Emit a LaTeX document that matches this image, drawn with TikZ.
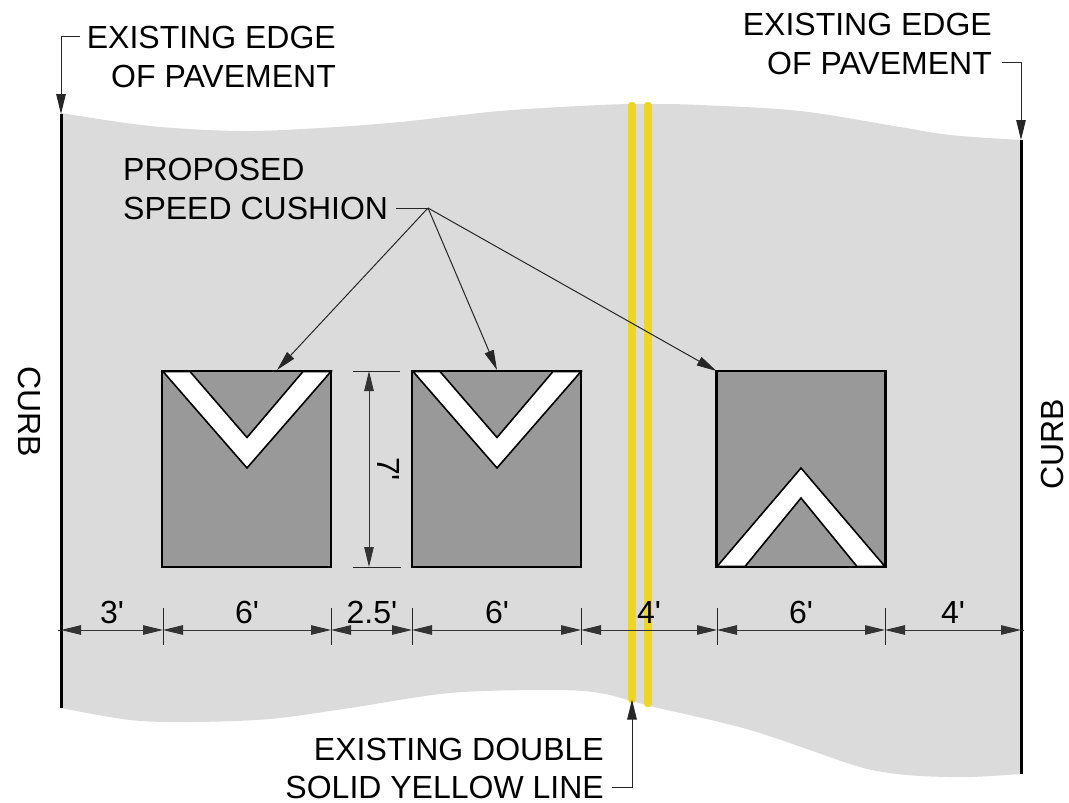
\documentclass[tikz,border=0pt]{standalone}
\usepackage{fontspec}
\setmainfont{Liberation Sans}[Ligatures=TeXOff]
\usetikzlibrary{arrows.meta}
\definecolor{pave}{RGB}{219,219,219}
\definecolor{cush}{RGB}{153,153,153}
\definecolor{ylw}{RGB}{238,215,36}
\tikzset{
  x=1pt,y=-1pt,
  lbl/.style={inner sep=0pt,font=\fontsize{32}{39}\selectfont},
  cushion/.style={fill=cush,rectangle,inner sep=0pt,outer sep=0pt,minimum width=169pt,minimum height=196pt},
  cushionedge/.style={line width=2.7pt,draw=black,line join=miter},
  chevron/.style={draw=black,line width=1.6pt,fill=white,line join=miter},
  thin leader/.style={line width=1pt,draw=black!85},
  tip/.style={-{Triangle[length=20pt,width=9.5pt]}},
  dimline/.style={line width=1pt,draw=black!80,{Triangle[length=20pt,width=9.5pt]}-{Triangle[length=20pt,width=9.5pt]}},
  tick/.style={line width=1pt,draw=black!85},
  curb/.style={line width=3pt,draw=black},
  yline/.style={line width=7.5pt,draw=ylw,line cap=round}
}
\begin{document}
\begin{tikzpicture}
\useasboundingbox (0,0) rectangle (1069,803);
% pavement
\fill[pave] plot[smooth,tension=0.55] coordinates {(61,113) (150,126) (240,131) (320,128) (400,122) (500,111) (600,105) (650,104) (700,105) (800,111) (900,127) (950,135) (1021,140)}
  -- (1021,774)
  -- plot[smooth,tension=0.55] coordinates {(1021,774) (970,777) (920,776) (883,772) (850,764) (750,730) (650,706) (600,693) (550,690) (450,693) (350,708) (270,719) (190,722) (130,720) (61,708)}
  -- cycle;
% yellow lines
\coordinate (y1t) at (632,105.5); \coordinate (y1b) at (632,699.5);
\coordinate (y2t) at (648,105.5); \coordinate (y2b) at (648,703.5);
\draw[yline] (y1t) -- (y1b);
\draw[yline] (y2t) -- (y2b);
% curbs
\coordinate (lt) at (61,114); \coordinate (lb) at (61,708);
\coordinate (rt) at (1021,140); \coordinate (rb) at (1021,774);
\draw[curb] (lt) -- (lb);
\draw[curb] (rt) -- (rb);
% cushions
\node[cushion] (c1) at (246.5,469) {};
\node[cushion] (c2) at (496.5,469) {};
\node[cushion] (c3) at (801,469) {};
\draw[chevron] (163,371.5) -- (247,468) -- (331,371.5) -- (303,371.5) -- (247,437.5) -- (190,371.5) -- cycle;
\draw[chevron] (413,371.5) -- (497,468) -- (581,371.5) -- (553,371.5) -- (497,437.5) -- (440,371.5) -- cycle;
\draw[chevron] (717,566.5) -- (801,468) -- (885,566.5) -- (857,566.5) -- (801,498) -- (745,566.5) -- cycle;
\draw[cushionedge] (c1.north west) rectangle (c1.south east);
\draw[cushionedge] (c2.north west) rectangle (c2.south east);
\draw[cushionedge] (c3.north west) rectangle (c3.south east);
% labels
\node[lbl,anchor=base east] (e1a) at (336,48) {EXISTING EDGE};
\node[lbl,anchor=base east] (e1b) at (336,87) {OF PAVEMENT};
\node[lbl,anchor=base east] (e2a) at (992,35) {EXISTING EDGE};
\node[lbl,anchor=base east] (e2b) at (992,74) {OF PAVEMENT};
\node[lbl,anchor=base west] (p1) at (123,180) {PROPOSED};
\node[lbl,anchor=base west] (p2) at (123,219) {SPEED CUSHION};
\node[lbl,anchor=base east] (d1) at (604,760) {EXISTING DOUBLE};
\node[lbl,anchor=base east] (d2) at (604,798) {SOLID YELLOW LINE};
\node[lbl,rotate=-90] (cl) at (30,411.5) {CURB};
\node[lbl,rotate=90] (cr) at (1052,444.5) {CURB};
% edge leaders
\coordinate (a1) at (80,36); \coordinate (a2) at (61,36);
\draw[thin leader,tip] (a1) -- (a2) -- (lt);
\coordinate (b1) at (1002,62); \coordinate (b2) at (1021,62);
\draw[thin leader,tip] (b1) -- (b2) -- (rt);
\coordinate (f1) at (612,787); \coordinate (f2) at (632,787);
\draw[thin leader,tip] (f1) -- (f2) -- (y1b);
% speed cushion leaders
\coordinate (h0) at (396,208); \coordinate (h1) at (428,208);
\coordinate (t1) at (277,370); \coordinate (t2) at (497,370);
\draw[thin leader] (h0) -- (h1);
\draw[thin leader,tip] (h1) -- (t1);
\draw[thin leader,tip] (h1) -- (t2);
\draw[thin leader,tip] (h1) -- (c3.north west);
% horizontal dimensions
\foreach \n/\x in {k1/61,k2/163,k3/331,k4/412,k5/581,k6/717,k7/885,k8/1021}{\coordinate (\n) at (\x,630);}
\foreach \a/\b in {k1/k2,k2/k3,k3/k4,k4/k5,k5/k6,k6/k7,k7/k8}{\draw[dimline] (\a) -- (\b);}
\foreach \n in {k2,k3,k4,k5,k6,k7}{\draw[tick] ([yshift=-15pt]\n) -- ([yshift=22pt]\n);}
\draw[tick] ([xshift=-3pt]k1) -- (k1);
\draw[tick] (k8) -- ([xshift=3pt]k8);
\node[lbl,anchor=base] (n1) at (112,623) {3'};
\node[lbl,anchor=base] (n2) at (247,623) {6'};
\node[lbl,anchor=base] (n3) at (372,623) {2.5'};
\node[lbl,anchor=base] (n4) at (497,623) {6'};
\node[lbl,anchor=base] (n5) at (649,623) {4'};
\node[lbl,anchor=base] (n6) at (801,623) {6'};
\node[lbl,anchor=base] (n7) at (953,623) {4'};
% vertical dimension
\coordinate (v1) at (369,371); \coordinate (v2) at (369,567);
\draw[tick] (353,371) -- (400,371);
\draw[tick] (353,567) -- (401,567);
\draw[dimline] (v1) -- (v2);
\node[lbl,anchor=base,rotate=-90] (n8) at (377,469) {7'};
\end{tikzpicture}
\end{document}
